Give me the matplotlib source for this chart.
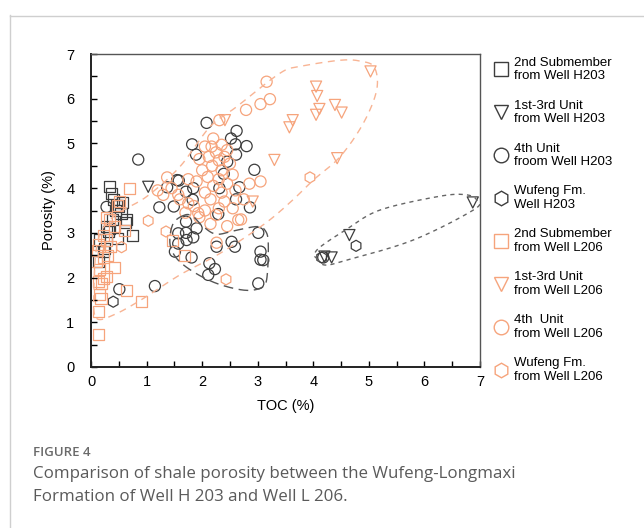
import numpy as np
import matplotlib
matplotlib.use("Agg")
import matplotlib.pyplot as plt
from matplotlib.lines import Line2D

plt.rcParams['font.family'] = ['Liberation Sans', 'DejaVu Sans']

# TOC / porosity samples, Well H203
h203_sub2_toc = [0.33, 0.40, 0.37, 0.56, 0.50, 0.54, 0.64, 0.62, 0.74, 0.34, 0.31, 0.47, 0.16, 0.25, 0.22, 0.13, 0.44, 0.28, 0.38, 0.46]
h203_sub2_por = [4.03, 3.75, 3.88, 3.68, 3.60, 3.44, 3.29, 3.24, 2.95, 3.10, 3.03, 2.88, 2.84, 2.65, 2.58, 2.36, 3.50, 3.15, 3.30, 3.62]

h203_unit13_toc = [1.03, 4.20, 4.33, 4.65, 6.87]
h203_unit13_por = [4.03, 2.47, 2.45, 2.95, 3.68]

h203_unit4_toc = [2.08, 2.62, 2.52, 2.60, 2.80, 1.82, 1.89, 2.61, 2.45, 2.94, 2.39, 1.55, 1.58, 1.37, 1.71, 1.84, 2.31, 2.67,
                  1.83, 2.61, 1.23, 1.49, 2.86, 2.29, 0.85, 1.71, 1.57, 1.71, 1.90, 1.84, 1.57, 1.72, 1.51, 1.81, 3.01, 2.53,
                  2.59, 2.26, 3.05, 3.10, 3.05, 2.13, 2.23, 2.11, 3.01, 1.15, 0.51, 4.18, 0.28]
h203_unit4_por = [5.46, 5.28, 5.11, 4.98, 4.94, 4.98, 4.75, 4.75, 4.59, 4.41, 4.32, 4.18, 4.17, 4.02, 3.92, 4.00, 4.00, 4.02,
                  3.74, 3.75, 3.57, 3.59, 3.57, 3.42, 4.64, 3.25, 2.99, 3.00, 3.10, 2.90, 2.76, 2.84, 2.58, 2.45, 3.00, 2.80,
                  2.69, 2.69, 2.58, 2.39, 2.40, 2.32, 2.19, 2.06, 1.87, 1.81, 1.74, 2.45, 3.58]

h203_wufeng_toc = [4.77, 4.15, 0.40]
h203_wufeng_por = [2.71, 2.45, 1.46]

# TOC / porosity samples, Well L206
l206_sub2_toc = [0.70, 0.52, 0.47, 0.34, 0.28, 0.42, 0.61, 0.22, 0.28, 0.14, 0.35, 0.12, 0.22, 0.30, 0.09, 0.42, 0.16, 0.28,
                 0.22, 0.13, 0.19, 0.64, 0.16, 0.18, 0.91, 0.13, 0.14, 1.47, 1.69]
l206_sub2_por = [4.00, 3.70, 3.62, 3.29, 3.35, 3.15, 3.06, 2.95, 2.84, 2.73, 2.70, 2.60, 2.45, 2.50, 2.36, 2.23, 2.18, 2.03,
                 1.98, 1.91, 1.87, 1.72, 1.63, 1.54, 1.46, 1.24, 0.72, 2.83, 2.50]

l206_unit13_toc = [5.03, 4.05, 4.07, 4.11, 4.05, 4.39, 4.51, 3.63, 3.57, 4.43, 2.41, 3.30, 2.91]
l206_unit13_por = [6.61, 6.27, 6.06, 5.77, 5.64, 5.86, 5.69, 5.52, 5.36, 4.67, 5.52, 4.63, 3.70]

l206_unit4_toc = [3.16, 3.22, 3.05, 2.79, 2.31, 2.20, 2.05, 2.17, 2.35, 2.45, 2.25, 2.12, 2.40, 1.95, 2.30, 2.50, 2.18, 2.00,
                  2.35, 2.55, 2.10, 2.30, 1.90, 2.20, 2.45, 1.75, 2.05, 2.35, 2.60, 2.85, 2.15, 2.40, 1.85, 2.05, 2.30, 2.55,
                  2.25, 1.95, 2.70, 2.15, 2.45, 1.70, 3.05, 2.75, 1.60, 1.45, 1.30, 1.20, 1.37, 1.57, 1.75, 1.93, 2.26, 2.65]
l206_unit4_por = [6.38, 5.99, 5.88, 5.75, 5.52, 5.11, 4.93, 4.93, 4.97, 4.85, 4.80, 4.70, 4.70, 4.65, 4.62, 4.55, 4.50, 4.40,
                  4.40, 4.30, 4.25, 4.20, 4.15, 4.05, 4.10, 4.20, 3.90, 3.90, 3.95, 4.10, 3.75, 3.70, 3.60, 3.50, 3.55, 3.55,
                  3.40, 3.35, 3.30, 3.20, 3.15, 3.45, 4.15, 3.75, 3.75, 4.00, 3.85, 3.95, 4.24, 3.85, 3.66, 3.44, 2.78, 3.29]

l206_wufeng_toc = [3.94, 2.43, 1.35, 1.03, 0.55]
l206_wufeng_por = [4.24, 1.96, 3.03, 3.27, 2.68]

legend_labels = ["2nd Submember\nfrom Well H203", "1st-3rd Unit\nfrom Well H203", "4th Unit\nfroom Well H203",
                 "Wufeng Fm.\nWell H203", "2nd Submember\nfrom Well L206", "1st-3rd Unit\nfrom Well L206",
                 "4th  Unit\nfrom Well L206", "Wufeng Fm.\nfrom Well L206"]

# outlines drawn around the groups (TOC, porosity)
l206_outline = [(0.10, 1.09), (0.40, 1.16), (0.90, 1.50), (1.60, 2.06), (2.32, 2.54), (3.10, 3.18), (3.60, 3.70),
                (4.00, 4.18), (4.48, 4.70), (4.90, 5.45), (5.14, 6.19), (5.10, 6.70), (4.85, 6.84), (4.48, 6.86),
                (3.76, 6.72), (3.40, 6.57), (2.62, 5.82), (2.14, 5.37), (1.60, 4.48), (1.00, 3.81), (0.40, 3.36),
                (0.12, 2.80), (0.05, 1.60)]
h203_blob = [(1.69, 3.40), (1.48, 3.21), (1.42, 2.77), (1.54, 2.43), (1.84, 2.13), (2.26, 1.87), (2.74, 1.72),
             (3.04, 1.76), (3.16, 1.95), (3.19, 2.77), (3.13, 3.06), (2.98, 3.14), (2.62, 3.06), (2.26, 2.97),
             (2.02, 3.14), (1.84, 3.36)]
h203_ellipse = [(4.06, 2.43), (4.21, 2.28), (4.60, 2.39), (5.80, 2.84), (6.88, 3.51), (6.95, 3.72), (6.76, 3.85),
                (6.28, 3.82), (5.20, 3.51), (4.60, 3.08), (4.14, 2.70), (4.02, 2.52)]


def closed_curve(pts, n=30):
    # periodic Catmull-Rom spline through the outline points
    p = np.asarray(pts, dtype=float)
    m = len(p)
    t = np.linspace(0, 1, n, endpoint=False)[:, None]
    segs = []
    for i in range(m):
        p0, p1, p2, p3 = p[i - 1], p[i], p[(i + 1) % m], p[(i + 2) % m]
        segs.append(0.5 * (2 * p1 + (-p0 + p2) * t + (2 * p0 - 5 * p1 + 4 * p2 - p3) * t ** 2
                           + (-p0 + 3 * p1 - 3 * p2 + p3) * t ** 3))
    c = np.vstack(segs)
    return np.vstack([c, c[:1]])


dark = "#3d3d3d"
orange = "#f6a47c"

fig = plt.figure(figsize=(6.44, 5.28), dpi=100)
ax = fig.add_axes([91 / 644, 1 - 367 / 528, 389 / 644, 313 / 528])

c = closed_curve(l206_outline)
ax.plot(c[:, 0], c[:, 1], color="#f8b494", lw=1.0, dashes=(5, 4))
c = closed_curve(h203_blob)
ax.plot(c[:, 0], c[:, 1], color="#555555", lw=1.0, dashes=(7, 4))
c = closed_curve(h203_ellipse)
ax.plot(c[:, 0], c[:, 1], color="#666666", lw=1.0, dashes=(3, 3))

ms = 64
series = [
    (h203_sub2_toc, h203_sub2_por, "s", dark),
    (h203_unit13_toc, h203_unit13_por, "v", dark),
    (h203_unit4_toc, h203_unit4_por, "o", dark),
    (h203_wufeng_toc, h203_wufeng_por, "h", dark),
    (l206_sub2_toc, l206_sub2_por, "s", orange),
    (l206_unit13_toc, l206_unit13_por, "v", orange),
    (l206_unit4_toc, l206_unit4_por, "o", orange),
    (l206_wufeng_toc, l206_wufeng_por, "h", orange),
]
handles = []
for (x, y, mk, col), lab in zip(series, legend_labels):
    ax.scatter(x, y, s=ms, marker=mk, facecolors="none", edgecolors=col, linewidths=0.9)
    handles.append(Line2D([], [], ls="none", marker=mk, markersize=10.5, markerfacecolor="none",
                          markeredgecolor=col, markeredgewidth=1.0, label=lab))

ax.set_xlim(0, 7)
ax.set_ylim(0, 7)
ax.set_xticks(range(8))
ax.set_yticks(range(8))
ax.set_xticks(np.arange(0.5, 7, 1), minor=True)
ax.set_yticks(np.arange(0.5, 7, 1), minor=True)
ax.tick_params(which="both", direction="in", length=4, width=1.0, top=False, right=False, labelsize=10.5)
ax.tick_params(axis="y", pad=12)
ax.tick_params(axis="x", pad=6)
for side in ["left", "bottom"]:
    ax.spines[side].set_linewidth(1.4)
    ax.spines[side].set_color("#222222")
for side in ["top", "right"]:
    ax.spines[side].set_linewidth(1.0)
    ax.spines[side].set_color("#555555")
ax.set_xlabel("TOC (%)", fontsize=10.5, labelpad=7)
ax.set_ylabel("Porosity (%)", fontsize=10.5, labelpad=7)

fig.legend(handles=handles, loc="upper left", bbox_to_anchor=(488 / 644, 1 - 50 / 528), frameon=False,
           fontsize=9.5, labelspacing=1.3, handletextpad=0.6, handlelength=0.9, borderpad=0)

# card border
fig.add_artist(Line2D([9.5 / 644, 9.5 / 644], [0, 1 - 15 / 528], color="#cfcfcf", lw=1.0))
fig.add_artist(Line2D([9.5 / 644, 1], [1 - 15.5 / 528, 1 - 15.5 / 528], color="#cfcfcf", lw=1.0))

fig.text(33 / 644, 1 - 452 / 528, "FIGURE 4", fontsize=9.5, color="#6a6a6a", family="Open Sans",
         va="center", weight="semibold")
fig.text(33 / 644, 1 - 474 / 528, "Comparison of shale porosity between the Wufeng-Longmaxi",
         fontsize=12.2, color="#5a5a5a", family="Open Sans", va="center")
fig.text(33 / 644, 1 - 497 / 528, "Formation of Well H 203 and Well L 206.",
         fontsize=12.2, color="#5a5a5a", family="Open Sans", va="center")

fig.savefig("out.png", dpi=100)
